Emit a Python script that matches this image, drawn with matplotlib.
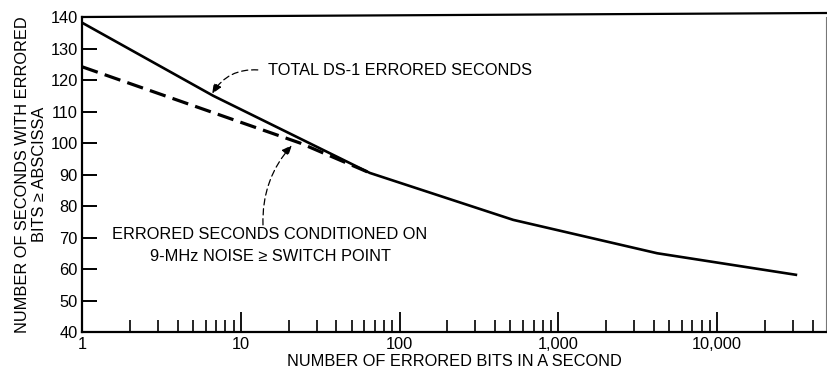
import numpy as np
import matplotlib
matplotlib.use("Agg")
import matplotlib.pyplot as plt
from matplotlib.ticker import FixedLocator, NullFormatter
from matplotlib.lines import Line2D

plt.rcParams['font.family'] = ['Liberation Sans', 'DejaVu Sans']

# Total DS-1 errored seconds (solid curve)
total_bits = [1, 6.7, 65, 520, 4200, 32000]
total_secs = [138.2, 115.0, 90.5, 75.6, 65.0, 58.1]

# Errored seconds conditioned on 9-MHz noise >= switch point (dashed curve)
cond_bits = [1, 23.6, 65]
cond_secs = [124.2, 100.0, 90.5]

y_ticks = [40, 50, 60, 70, 80, 90, 100, 110, 120, 130, 140]
x_major = [1, 10, 100, 1000, 10000]
x_major_labels = ["1", "10", "100", "1,000", "10,000"]

FS = 11.8

fig = plt.figure(figsize=(8.27, 3.72), dpi=100)
ax = fig.add_axes([0.0992, 0.1075, 0.8996, 0.8468])

ax.set_xscale('log')
ax.set_xlim(1, 48600)
ax.set_ylim(40, 140)

ax.plot(total_bits, total_secs, color='black', lw=1.9, solid_capstyle='butt',
        solid_joinstyle='round')
ax.plot(cond_bits, cond_secs, color='black', lw=2.3, linestyle=(0, (5.2, 2.3)),
        dash_capstyle='butt')

# axes frame
for side in ('left', 'bottom'):
    ax.spines[side].set_linewidth(1.6)
ax.spines['right'].set_linewidth(0.8)
ax.spines['right'].set_color('#777777')
ax.spines['top'].set_visible(False)
ax.add_line(Line2D([0, 1], [1, 1.0127], transform=ax.transAxes, color='black',
                   lw=1.6, clip_on=False))

# ticks
ax.yaxis.set_major_locator(FixedLocator(y_ticks))
ax.set_yticklabels([str(v) for v in y_ticks])
ax.xaxis.set_major_locator(FixedLocator(x_major))
ax.set_xticklabels(x_major_labels)
minor = [m * d for d in (1, 10, 100, 1000, 10000) for m in range(2, 10)
         if m * d < 48600]
ax.xaxis.set_minor_locator(FixedLocator(minor))
ax.xaxis.set_minor_formatter(NullFormatter())
ax.tick_params(axis='x', which='major', direction='in', length=14.5, width=1.3,
               top=False, labelsize=FS, pad=3.5)
ax.tick_params(axis='x', which='minor', direction='in', length=8.5, width=1.2,
               top=False)
ax.tick_params(axis='y', which='major', direction='in', length=11, width=1.4,
               right=False, labelsize=FS, pad=3)

ax.set_xlabel("NUMBER OF ERRORED BITS IN A SECOND", fontsize=FS, labelpad=1.5)
ax.set_ylabel("NUMBER OF SECONDS WITH ERRORED\nBITS \u2265 ABSCISSA", fontsize=FS,
              labelpad=2.5, linespacing=1.15)

# annotations
ax.text(14.9, 122.9, "TOTAL DS-1 ERRORED SECONDS", fontsize=FS, va='center',
        ha='left')
ax.annotate("", xy=(6.6, 115.6), xytext=(12.8, 123.2),
            arrowprops=dict(arrowstyle='-|>,head_length=0.6,head_width=0.25',
                            linestyle=(0, (5, 3)), lw=0.9, color='black',
                            connectionstyle='arc3,rad=0.3',
                            shrinkA=0, shrinkB=0))

ax.text(15.3, 67.5,
        "ERRORED SECONDS CONDITIONED ON\n9-MHz NOISE \u2265 SWITCH POINT",
        fontsize=FS, ha='center', va='center', linespacing=1.6)
ax.annotate("", xy=(21, 99.3), xytext=(13.8, 74.0),
            arrowprops=dict(arrowstyle='-|>,head_length=0.6,head_width=0.25',
                            linestyle=(0, (5, 3)), lw=0.9, color='black',
                            connectionstyle='arc3,rad=-0.2',
                            shrinkA=0, shrinkB=0))

fig.savefig("out.png", dpi=100)
